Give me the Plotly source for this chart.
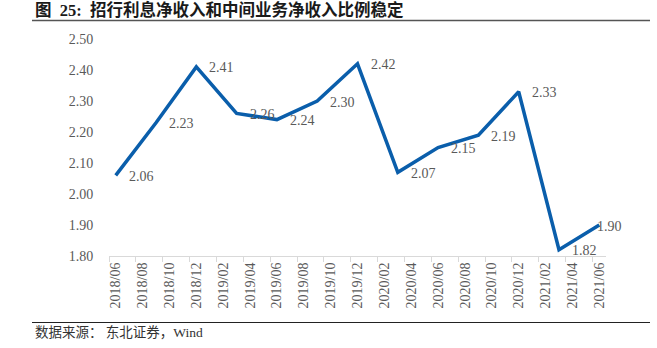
import plotly.graph_objects as go

# ---- data ----
quarters = ["2018/06", "2018/09", "2018/12", "2019/03", "2019/06", "2019/09", "2019/12",
            "2020/03", "2020/06", "2020/09", "2020/12", "2021/03", "2021/06"]
ratio = [2.06, 2.23, 2.41, 2.26, 2.24, 2.30, 2.42, 2.07, 2.15, 2.19, 2.33, 1.82, 1.90]
tick_labels = ["2018/06", "2018/08", "2018/10", "2018/12", "2019/02", "2019/04", "2019/06",
               "2019/08", "2019/10", "2019/12", "2020/02", "2020/04", "2020/06", "2020/08",
               "2020/10", "2020/12", "2021/02", "2021/04", "2021/06"]
title_text = "图  25:  招行利息净收入和中间业务净收入比例稳定"
source_text = "数据来源： 东北证券，Wind"

def month_index(s):
    y, m = s.split("/")
    return (int(y) - 2018) * 12 + int(m) - 6

xq = [month_index(q) for q in quarters]
xt = [month_index(t) for t in tick_labels]

W, H = 657, 348
L, R, T, B = 109, 606, 39, 256

def px2x(px):
    return (px - L) / (R - L)

def py2y(py):
    return 1 - (py - T) / (B - T)

GRAY = "#595959"
SERIF = "Times New Roman, Liberation Serif, Noto Sans CJK SC"

fig = go.Figure()
fig.add_trace(go.Scatter(x=xq, y=ratio, mode="lines",
                         line=dict(color="#0A5EAB", width=3.5),
                         hoverinfo="skip", showlegend=False))

annotations = []
n = len(ratio)
for i, (x, v) in enumerate(zip(xq, ratio)):
    # the last label is pulled back so it stays inside the chart area
    shift = -4 if i == n - 1 else 11
    annotations.append(dict(x=x, y=v, xref="x", yref="y", text=f"{v:.2f}",
                            showarrow=False, xanchor="left", yanchor="middle",
                            xshift=shift, yshift=-1,
                            font=dict(family=SERIF, size=14, color=GRAY)))
annotations.append(dict(x=px2x(33), y=py2y(10), xref="paper", yref="paper",
                        text="<b>" + title_text + "</b>", showarrow=False,
                        xanchor="left", yanchor="middle",
                        font=dict(family=SERIF, size=16.5, color="#1a1a1a")))
annotations.append(dict(x=px2x(33), y=py2y(332), xref="paper", yref="paper",
                        text=source_text, showarrow=False,
                        xanchor="left", yanchor="middle",
                        font=dict(family=SERIF, size=13.5, color="#333333")))

shapes = [
    dict(type="line", xref="paper", yref="paper", x0=px2x(32), x1=px2x(650),
         y0=py2y(20.5), y1=py2y(20.5), line=dict(color="#555555", width=1.5)),
    dict(type="line", xref="paper", yref="paper", x0=px2x(32), x1=px2x(650),
         y0=py2y(322.5), y1=py2y(322.5), line=dict(color="#222222", width=1)),
]

fig.update_layout(
    width=W, height=H,
    margin=dict(l=L, r=W - R, t=T, b=H - B, pad=0),
    paper_bgcolor="white", plot_bgcolor="white",
    annotations=annotations, shapes=shapes,
    xaxis=dict(range=[-0.5, 36.5], tickmode="array", tickvals=xt, ticktext=tick_labels,
               tickangle=-90, ticks="", showgrid=False, zeroline=False,
               showline=True, linecolor="#D9D9D9", linewidth=1,
               tickfont=dict(family=SERIF, size=14, color=GRAY),
               minor=dict(tickmode="array", tickvals=[v - 0.5 for v in xt],
                          ticks="outside", ticklen=5, tickcolor="#D9D9D9",
                          tickwidth=1, showgrid=False),
               fixedrange=True),
    yaxis=dict(range=[1.8, 2.5], dtick=0.1, tick0=1.8, tickformat=".2f",
               showgrid=False, zeroline=False, showline=False,
               ticks="outside", ticklen=12, tickcolor="rgba(0,0,0,0)",
               tickfont=dict(family=SERIF, size=14, color=GRAY),
               fixedrange=True),
)

fig.write_html("out.html")
